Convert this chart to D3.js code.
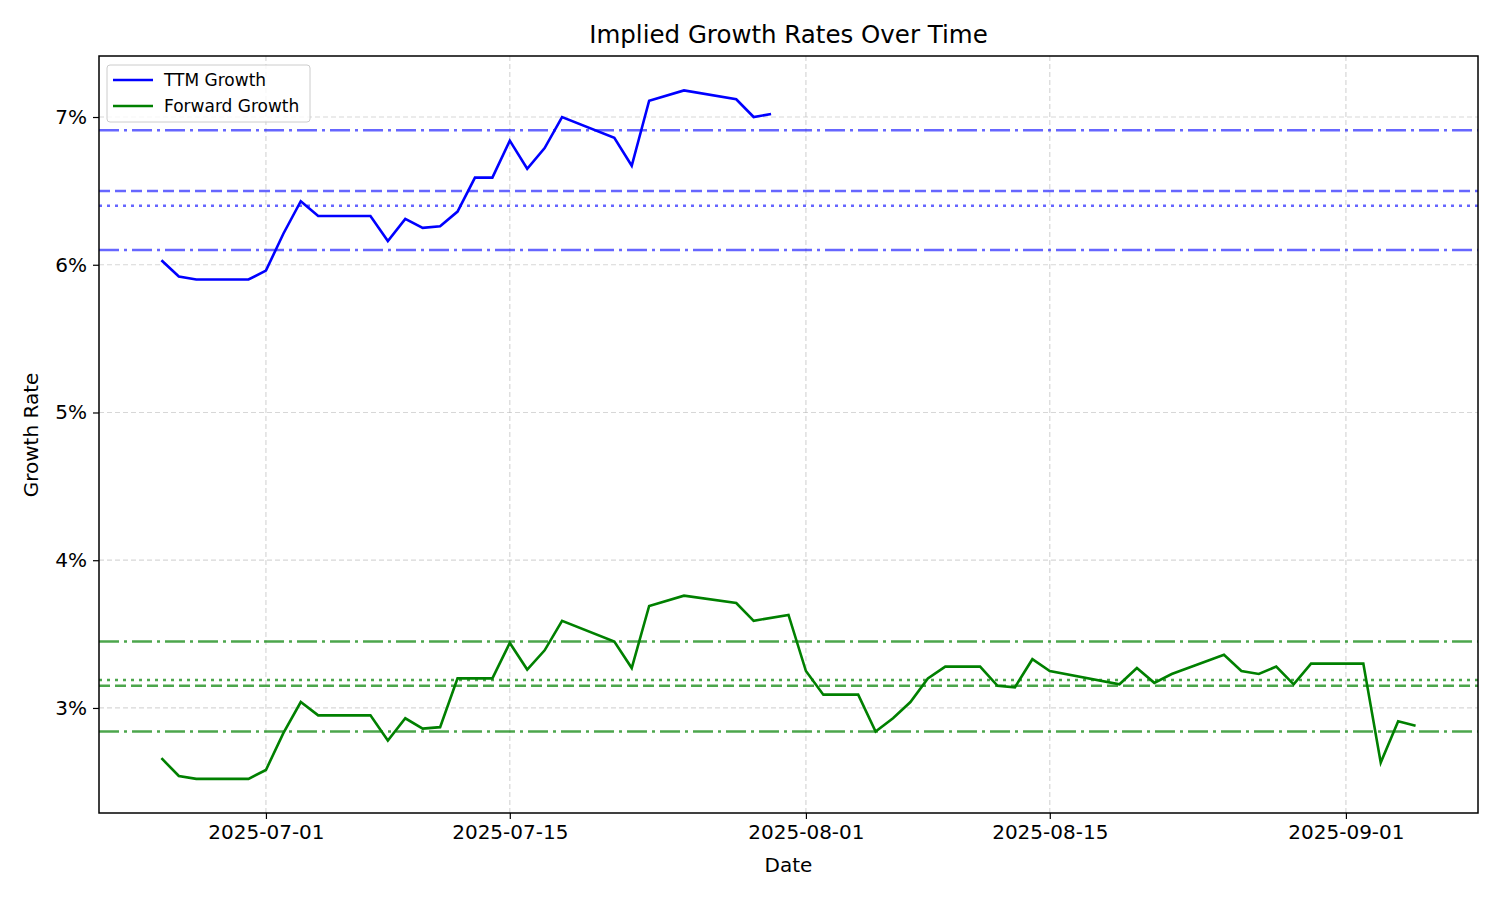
<!DOCTYPE html>
<html><head><meta charset="utf-8">
<script src="https://cdn.jsdelivr.net/npm/d3@7"></script>
<style>body{margin:0;background:#fff}text{font-family:"DejaVu Sans",sans-serif}</style>
</head><body><svg id="c" width="1500" height="900"></svg>
<script>
const ttmDates=["2025-06-25","2025-06-26","2025-06-27","2025-06-30","2025-07-01","2025-07-02","2025-07-03","2025-07-04","2025-07-07","2025-07-08","2025-07-09","2025-07-10","2025-07-11","2025-07-12","2025-07-13","2025-07-14","2025-07-15","2025-07-16","2025-07-17","2025-07-18","2025-07-21","2025-07-22","2025-07-23","2025-07-25","2025-07-28","2025-07-29","2025-07-30"];
const ttmValues=[6.03,5.92,5.90,5.90,5.96,6.21,6.43,6.33,6.33,6.16,6.31,6.25,6.26,6.36,6.59,6.59,6.84,6.65,6.79,7.00,6.86,6.67,7.11,7.18,7.12,7.00,7.02];
const fwdDates=["2025-06-25","2025-06-26","2025-06-27","2025-06-30","2025-07-01","2025-07-02","2025-07-03","2025-07-04","2025-07-07","2025-07-08","2025-07-09","2025-07-10","2025-07-11","2025-07-12","2025-07-13","2025-07-14","2025-07-15","2025-07-16","2025-07-17","2025-07-18","2025-07-21","2025-07-22","2025-07-23","2025-07-25","2025-07-28","2025-07-29","2025-07-31","2025-08-01","2025-08-02","2025-08-04","2025-08-05","2025-08-06","2025-08-07","2025-08-08","2025-08-09","2025-08-11","2025-08-12","2025-08-13","2025-08-14","2025-08-15","2025-08-19","2025-08-20","2025-08-21","2025-08-22","2025-08-25","2025-08-26","2025-08-27","2025-08-28","2025-08-29","2025-08-30","2025-09-02","2025-09-03","2025-09-04","2025-09-05"];
const fwdValues=[2.66,2.54,2.52,2.52,2.58,2.83,3.04,2.95,2.95,2.78,2.93,2.86,2.87,3.20,3.20,3.20,3.44,3.26,3.39,3.59,3.45,3.27,3.69,3.76,3.71,3.59,3.63,3.25,3.09,3.09,2.84,2.93,3.04,3.20,3.28,3.28,3.15,3.14,3.33,3.25,3.16,3.27,3.17,3.23,3.36,3.25,3.23,3.28,3.16,3.30,3.30,2.63,2.91,2.88];
const ttmRefs=[6.91,6.50,6.40,6.10];
const fwdRefs=[3.45,3.19,3.15,2.84];
const refStyles=["20,5,3,5","11,5","3,5","20,5,3,5"];
const fwdStyles=["20,5,3,5","3,5","11,5","20,5,3,5"];
const xTicks=["2025-07-01","2025-07-15","2025-08-01","2025-08-15","2025-09-01"];
const yTicks=[3,4,5,6,7];

const P=d3.timeParse("%Y-%m-%d");
const svg=d3.select("#c");
const L=99,R=1478,T=56,B=813;
const x=d3.scaleTime().domain([new Date(2025,5,21,10),new Date(2025,8,8,14)]).range([L,R]);
const y=d3.scaleLinear().domain([2.289,7.413]).range([B,T]);
const g=svg.append("g");
xTicks.forEach(t=>g.append("line").attr("x1",x(P(t))).attr("x2",x(P(t))).attr("y1",T).attr("y2",B).attr("stroke","#b0b0b0").attr("stroke-opacity",0.5).attr("stroke-width",1.2).attr("stroke-dasharray","5,3"));
yTicks.forEach(t=>g.append("line").attr("x1",L).attr("x2",R).attr("y1",y(t)).attr("y2",y(t)).attr("stroke","#b0b0b0").attr("stroke-opacity",0.5).attr("stroke-width",1.2).attr("stroke-dasharray","5,3"));
ttmRefs.forEach((v,i)=>g.append("line").attr("x1",L).attr("x2",R).attr("y1",y(v)).attr("y2",y(v)).attr("stroke","#0000ff").attr("stroke-opacity",0.6).attr("stroke-width",2.5).attr("stroke-dasharray",refStyles[i]));
fwdRefs.forEach((v,i)=>g.append("line").attr("x1",L).attr("x2",R).attr("y1",y(v)).attr("y2",y(v)).attr("stroke","#008000").attr("stroke-opacity",0.7).attr("stroke-width",2.5).attr("stroke-dasharray",fwdStyles[i]));
const line=d3.line().x(d=>x(d[0])).y(d=>y(d[1]));
g.append("path").datum(ttmDates.map((d,i)=>[P(d),ttmValues[i]])).attr("d",line).attr("fill","none").attr("stroke","#0000ff").attr("stroke-width",2.6);
g.append("path").datum(fwdDates.map((d,i)=>[P(d),fwdValues[i]])).attr("d",line).attr("fill","none").attr("stroke","#008000").attr("stroke-width",2.6);
const xa=svg.append("g").attr("transform",`translate(0,${B})`).call(d3.axisBottom(x).tickValues(xTicks.map(P)).tickFormat(d3.timeFormat("%Y-%m-%d")).tickSizeOuter(0).tickSize(6).tickPadding(6));
const ya=svg.append("g").attr("transform",`translate(${L},0)`).call(d3.axisLeft(y).tickValues(yTicks).tickFormat(d=>d+"%").tickSizeOuter(0).tickSize(6).tickPadding(6));
[xa,ya].forEach(a=>{a.selectAll("text").attr("font-size",20).attr("fill","#000");a.selectAll(".tick line").attr("stroke-width",1.2);a.select(".domain").remove();});
svg.append("rect").attr("x",L).attr("y",T).attr("width",R-L).attr("height",B-T).attr("fill","none").attr("stroke","#000").attr("stroke-width",1.5);
svg.append("text").attr("x",(L+R)/2).attr("y",43).attr("text-anchor","middle").attr("font-size",24.5).text("Implied Growth Rates Over Time");
svg.append("text").attr("x",(L+R)/2).attr("y",872).attr("text-anchor","middle").attr("font-size",20).text("Date");
svg.append("text").attr("transform","translate(38,435) rotate(-90)").attr("text-anchor","middle").attr("font-size",20).text("Growth Rate");
const lg=svg.append("g").attr("transform","translate(107,65)");
lg.append("rect").attr("width",203).attr("height",57).attr("rx",3).attr("fill","#fff").attr("fill-opacity",0.8).attr("stroke","#ccc");
[["TTM Growth","#0000ff"],["Forward Growth","#008000"]].forEach((s,i)=>{
 lg.append("line").attr("x1",6).attr("x2",46).attr("y1",15+i*26).attr("y2",15+i*26).attr("stroke",s[1]).attr("stroke-width",2.6);
 lg.append("text").attr("x",57).attr("y",21+i*26).attr("font-size",17).text(s[0]);
});
</script></body></html>
